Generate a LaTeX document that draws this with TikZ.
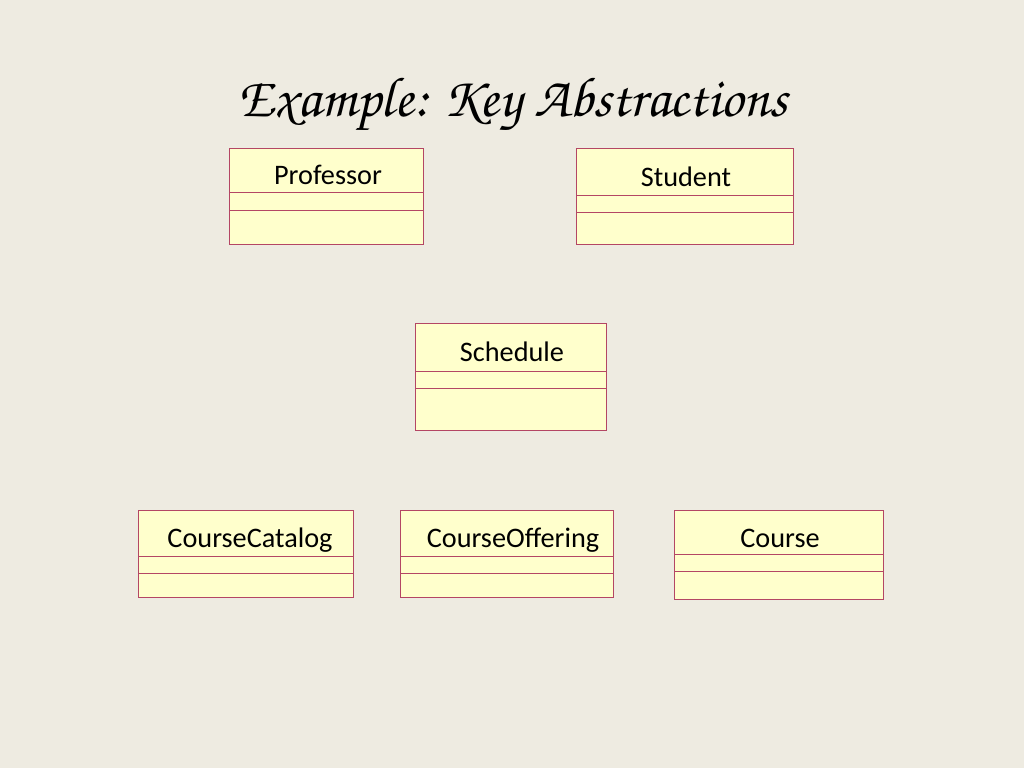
\documentclass[tikz,border=0pt]{standalone}
\usepackage{fontspec}
\setmainfont{Carlito}
\begin{document}
\begin{tikzpicture}[x=0.75pt,y=-0.75pt,
  box/.style={draw=umlborder, fill=umlfill, line width=0.7pt},
  sep/.style={draw=umlborder, line width=0.7pt},
  lbl/.style={font=\fontsize{21.2}{25}\selectfont, text=black, inner sep=0pt, text depth=0pt},
  ttl/.style={font=\fontencoding{OT1}\fontfamily{pzc}\fontsize{42.3}{48}\selectfont, text=black, inner sep=0pt}]
\definecolor{bg}{RGB}{238,235,225}
\definecolor{umlfill}{RGB}{255,255,204}
\definecolor{umlborder}{RGB}{180,70,100}
\fill[bg] (0,0) rectangle (1024,768);
\useasboundingbox (0,0) rectangle (1024,768);
\node[ttl] (title) at (513,105) {Example: Key Abstractions};
% Professor
\draw[box] (229,148) rectangle (423,244);
\draw[sep] (229,192) -- (423,192) (229,210) -- (423,210);
\node[lbl] (prof) at (328,175) {Professor};
% Student
\draw[box] (576,148) rectangle (793,244);
\draw[sep] (576,195) -- (793,195) (576,212) -- (793,212);
\node[lbl] (stud) at (686,177) {Student};
% Schedule
\draw[box] (415,323) rectangle (606,430);
\draw[sep] (415,371) -- (606,371) (415,388) -- (606,388);
\node[lbl] (sched) at (512,352) {Schedule};
% CourseCatalog
\draw[box] (138,510) rectangle (353,597);
\draw[sep] (138,556) -- (353,556) (138,573) -- (353,573);
\node[lbl] (cat) at (250,538) {CourseCatalog};
% CourseOffering
\draw[box] (400,510) rectangle (613,597);
\draw[sep] (400,556) -- (613,556) (400,573) -- (613,573);
\node[lbl] (off) at (513,538) {CourseOffering};
% Course
\draw[box] (674,510) rectangle (883,599);
\draw[sep] (674,554) -- (883,554) (674,571) -- (883,571);
\node[lbl] (course) at (780,538) {Course};
\end{tikzpicture}
\end{document}
